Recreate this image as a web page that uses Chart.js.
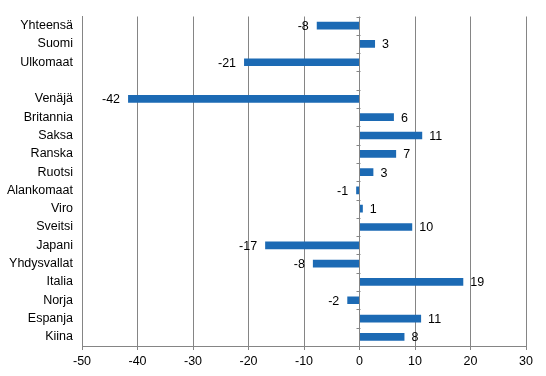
<!DOCTYPE html>
<html>
<head>
<meta charset="utf-8">
<script src="https://cdn.jsdelivr.net/npm/chart.js@4/dist/chart.umd.min.js"></script>
<style>
  html, body { margin: 0; padding: 0; background: #fff; }
  #wrap { width: 546px; height: 376px; position: relative; }
</style>
</head>
<body>
<div id="wrap"><canvas id="c" width="546" height="376"></canvas></div>
<script>
const categories = ['Yhteensä','Suomi','Ulkomaat','','Venäjä','Britannia','Saksa','Ranska','Ruotsi','Alankomaat','Viro','Sveitsi','Japani','Yhdysvallat','Italia','Norja','Espanja','Kiina'];
const changes = [-7.7, 2.8, -20.8, null, -41.7, 6.2, 11.3, 6.6, 2.5, -0.6, 0.6, 9.5, -17.0, -8.4, 18.7, -2.2, 11.1, 8.1];
const xMin = -50, xMax = 30, xStep = 10;

const FONT = '"Liberation Sans", Arial, sans-serif';
const FSIZE = 12.5;
const GRID = '#858585';

const valueLabels = {
  id: 'valueLabels',
  afterDatasetsDraw(chart) {
    const ctx = chart.ctx;
    const meta = chart.getDatasetMeta(0);
    ctx.save();
    ctx.font = FSIZE + 'px ' + FONT;
    ctx.fillStyle = '#000';
    ctx.textBaseline = 'middle';
    meta.data.forEach((el, i) => {
      const v = changes[i];
      if (v === null || v === undefined) return;
      const txt = String(Math.round(v));
      if (v < 0) { ctx.textAlign = 'right'; ctx.fillText(txt, el.x - 8, el.y + 1); }
      else { ctx.textAlign = 'left'; ctx.fillText(txt, el.x + 7, el.y + 1); }
    });
    ctx.restore();
  }
};

const zeroTicks = {
  id: 'zeroTicks',
  afterDraw(chart) {
    const ctx = chart.ctx;
    const xs = chart.scales.x, a = chart.chartArea;
    const x0 = Math.round(xs.getPixelForValue(0)) + 0.5;
    const n = categories.length;
    const step = (a.bottom - a.top) / n;
    ctx.save();
    ctx.strokeStyle = GRID;
    ctx.lineWidth = 1;
    ctx.beginPath();
    for (let i = 0; i < n; i++) {
      const y = Math.round(a.top + i * step) + 0.5;
      ctx.moveTo(x0 - 4, y);
      ctx.lineTo(x0, y);
    }
    ctx.stroke();
    ctx.restore();
  }
};

new Chart(document.getElementById('c'), {
  type: 'bar',
  data: {
    labels: categories,
    datasets: [{
      data: changes,
      backgroundColor: '#1c6ab4',
      borderWidth: 0,
      barPercentage: 0.42,
      categoryPercentage: 1.0
    }]
  },
  options: {
    indexAxis: 'y',
    responsive: false,
    animation: false,
    devicePixelRatio: 1,
    layout: { padding: { top: 14, right: 20, left: 0, bottom: 0 } },
    plugins: { legend: { display: false }, tooltip: { enabled: false } },
    scales: {
      x: {
        min: xMin, max: xMax,
        ticks: { stepSize: xStep, color: '#000', font: { family: FONT, size: FSIZE }, padding: 4 },
        grid: { color: GRID, lineWidth: 1, tickLength: 4, drawTicks: true, tickColor: GRID },
        border: { display: true, color: GRID },
        afterFit(s) { s.height = 30; }
      },
      y: {
        ticks: { color: '#000', font: { family: FONT, size: FSIZE }, padding: 9, autoSkip: false },
        grid: { display: false, drawTicks: false },
        border: { display: true, color: GRID },
        afterFit(s) { s.width = 82; }
      }
    }
  },
  plugins: [valueLabels, zeroTicks]
});
</script>
</body>
</html>
